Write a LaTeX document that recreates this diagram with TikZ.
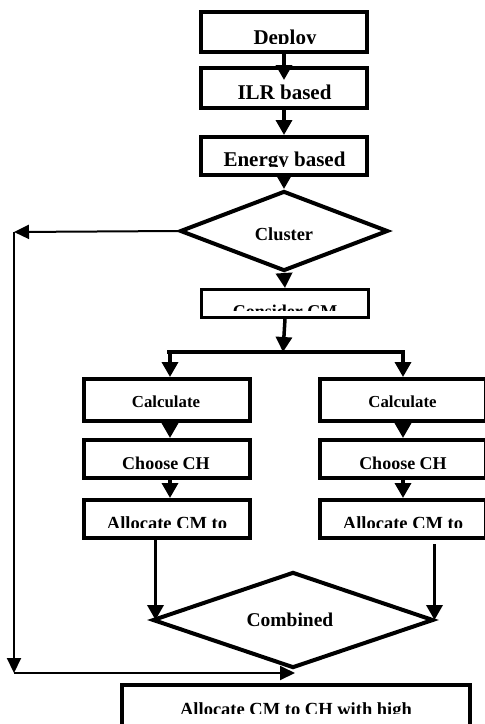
\documentclass[tikz,border=0pt]{standalone}
\usepackage{fontspec}
\setmainfont{Liberation Serif}
\usetikzlibrary{arrows.meta,shapes.geometric}
\tikzset{
  box/.style={draw, line width=4pt, fill=white, minimum width=166pt, inner sep=0pt},
  thinbox/.style={draw, line width=3pt, fill=white, inner sep=0pt},
  dia/.style={draw, diamond, line width=4pt, fill=white, inner sep=0pt},
  lbl/.style={anchor=base, inner sep=0pt, font=\bfseries},
  arr/.style={line width=3.5pt, -{Triangle[width=16pt,length=15pt]}},
  thinarr/.style={line width=2pt, -{Triangle[width=14pt,length=15pt]}},
  thickline/.style={line width=4pt}
}
\begin{document}
\begin{tikzpicture}[x=1pt,y=-1pt]
\useasboundingbox (0,0) rectangle (485,724);
% boxes
\node[box, minimum height=40pt] (deploy) at (284,32) {};
\node[box, minimum height=40pt] (ilr) at (284,88) {};
\node[box, minimum height=38pt] (energy) at (284,156) {};
\node[dia, minimum width=208pt, minimum height=80pt, aspect=2.6] (cluster) at (284,231) {};
\node[thinbox, minimum width=167pt, minimum height=28pt] (consider) at (285,303.5) {};
\node[box, minimum height=42pt] (lcalc) at (167,400) {};
\node[box, minimum height=38pt] (lchoose) at (167,459) {};
\node[box, minimum height=38pt] (lalloc) at (167,519) {};
\node[box, minimum height=42pt] (rcalc) at (403,400) {};
\node[box, minimum height=38pt] (rchoose) at (403,459) {};
\node[box, minimum height=38pt] (ralloc) at (403,519) {};
\node[dia, minimum width=281pt, minimum height=96pt, aspect=2.93] (comb) at (293,620) {};
\node[box, minimum width=348pt, minimum height=55pt] (final) at (296,712) {};
% texts
\begin{scope}\clip (150,0) rectangle (420,43);
\node[lbl, font=\fontsize{21}{24}\selectfont\bfseries] (tdeploy) at (285,44) {Deploy};
\end{scope}
\node[lbl, font=\fontsize{21}{24}\selectfont\bfseries] (tilr) at (284.5,99) {ILR based};
\begin{scope}\clip (150,140) rectangle (420,166);
\node[lbl, font=\fontsize{21}{24}\selectfont\bfseries] (tenergy) at (284.5,166.5) {Energy based};
\end{scope}
\node[lbl, font=\fontsize{18.4}{22}\selectfont\bfseries] (tcluster) at (284,240) {Cluster};
\begin{scope}\clip (150,290) rectangle (420,310.5);
\node[lbl, font=\fontsize{18}{22}\selectfont\bfseries] (tconsider) at (285,317.5) {Consider CM};
\end{scope}
\node[lbl, font=\fontsize{16.8}{20}\selectfont\bfseries] (tlcalc) at (166,407.5) {Calculate};
\node[lbl, font=\fontsize{18}{22}\selectfont\bfseries] (tlchoose) at (166,469) {Choose CH};
\node[lbl, font=\fontsize{16.8}{20}\selectfont\bfseries] (trcalc) at (402.5,407.5) {Calculate};
\node[lbl, font=\fontsize{18}{22}\selectfont\bfseries] (trchoose) at (403,469) {Choose CH};
\begin{scope}\clip (60,505) rectangle (485,527);
\node[lbl, font=\fontsize{18.5}{22}\selectfont\bfseries] (tlalloc) at (167,529.2) {Allocate CM to};
\node[lbl, font=\fontsize{18.5}{22}\selectfont\bfseries] (tralloc) at (403,529.2) {Allocate CM to};
\end{scope}
\node[lbl, font=\fontsize{19.5}{23}\selectfont\bfseries] (tcomb) at (290,626) {Combined};
\begin{scope}\clip (100,690) rectangle (480,713);
\node[lbl, font=\fontsize{18.5}{22}\selectfont\bfseries] (tfinal) at (296,715.2) {Allocate CM to CH with high};
\end{scope}
% coordinates
\coordinate (jn) at (283,352);
\coordinate (jl) at (170,352);
\coordinate (jr) at (403,352);
\coordinate (fb1) at (14,232);
\coordinate (fb2) at (14,673);
\coordinate (fb3) at (295,673);
% connectors
\draw[arr] (deploy.south) -- ([yshift=-14pt]ilr.north);
\draw[arr] (ilr.south) -- (energy.north);
\draw[arr] (energy.south) -- (cluster.north);
\draw[arr] (cluster.south) -- (consider.north);
\draw[arr] (consider.south) -- (jn);
\draw[thickline] ([xshift=-3pt]jl) -- ([xshift=2pt]jr);
\draw[arr] (jl) -- (jl |- lcalc.north);
\draw[arr] (jr) -- (jr |- rcalc.north);
\draw[arr] ([xshift=3pt]lcalc.south) -- ([xshift=3pt]lchoose.north);
\draw[arr] ([xshift=3pt]lchoose.south) -- ([xshift=3pt]lalloc.north);
\draw[arr] (rcalc.south) -- (rchoose.north);
\draw[arr] (rchoose.south) -- (ralloc.north);
\draw[arr] ([xshift=5pt]comb.west |- lalloc.south) -- ([xshift=5pt]comb.west);
\draw[arr] ([xshift=-1pt,yshift=-4pt]comb.east |- ralloc.south) -- ([xshift=-1pt]comb.east);
\draw[thinarr] (cluster.west) -- (fb1);
\draw[thinarr] (fb1) -- (fb2);
\draw[thinarr] (fb2) -- (fb3);
\end{tikzpicture}
\end{document}
